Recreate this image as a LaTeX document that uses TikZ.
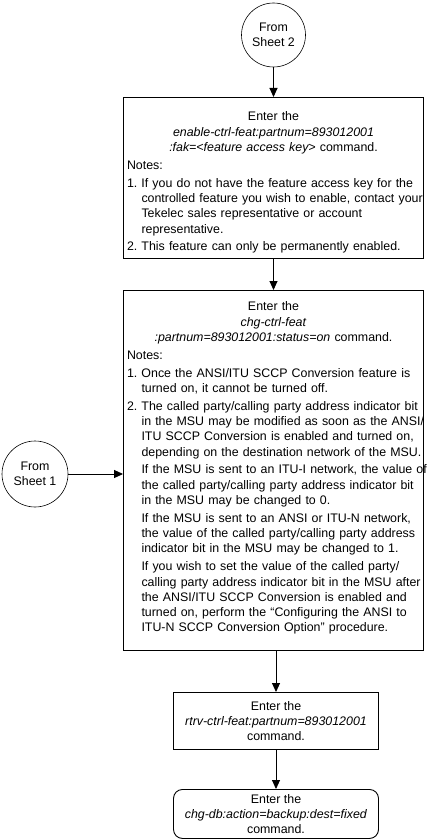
\documentclass[tikz,border=0pt]{standalone}
\usepackage{fontspec}
\setmainfont{Liberation Sans}
\usetikzlibrary{arrows.meta}
\newcommand\bfs{\fontsize{12.4}{15.3}\selectfont\frenchspacing}
\tikzset{
  box/.style={draw, line width=0.9pt, rectangle, anchor=north, inner xsep=3.5pt, inner ysep=0pt,
    align=left, font=\bfs},
  circ/.style={draw, line width=0.6pt, circle, align=center, font=\bfs, inner sep=0pt},
  arr/.style={line width=0.9pt, -{Triangle[length=9pt,width=8pt]}}
}
\newcommand\ind{\hspace*{14.5pt}}
\newcommand\lin[1]{\mbox{#1}}
\newcommand\ctr[1]{\makebox[\linewidth]{#1}}
\begin{document}
\begin{tikzpicture}[x=1pt,y=-1pt]
\useasboundingbox (0,0) rectangle (429,840);
\node[circ, minimum size=64pt] (s2) at (273.5,35) {From\\Sheet 2};
\node[box, text width=293pt, text height=23.5pt, text depth=137.5pt] (b1) at (273.5,97) {%
\ctr{Enter the}\\
\ctr{\textit{enable-ctrl-feat:partnum=893012001}}\\
\ctr{\textit{:fak=<feature access key>} command.}\\[2.5pt]
Notes:\\[2.5pt]
\lin{1. If you do not have the feature access key for the}\\
\ind\lin{controlled feature you wish to enable, contact your}\\
\ind\lin{Tekelec sales representative or account}\\
\ind\lin{representative.}\\[2.5pt]
\lin{2. This feature can only be permanently enabled.}};
\node[box, text width=293pt, text height=20.5pt, text depth=339.5pt] (b2) at (273.5,290) {%
\ctr{Enter the}\\
\ctr{\textit{chg-ctrl-feat}}\\
\ctr{\textit{:partnum=893012001:status=on} command.}\\[2.5pt]
Notes:\\[2.5pt]
\lin{1. Once the ANSI/ITU SCCP Conversion feature is}\\
\ind\lin{turned on, it cannot be turned off.}\\[2.5pt]
\lin{2. The called party/calling party address indicator bit}\\
\ind\lin{in the MSU may be modified as soon as the ANSI/}\\
\ind\lin{ITU SCCP Conversion is enabled and turned on,}\\
\ind\lin{depending on the destination network of the MSU.}\\[2.5pt]
\ind\lin{If the MSU is sent to an ITU-I network, the value of}\\
\ind\lin{the called party/calling party address indicator bit}\\
\ind\lin{in the MSU may be changed to 0.}\\[2.5pt]
\ind\lin{If the MSU is sent to an ANSI or ITU-N network,}\\
\ind\lin{the value of the called party/calling party address}\\
\ind\lin{indicator bit in the MSU may be changed to 1.}\\[2.5pt]
\ind\lin{If you wish to set the value of the called party/}\\
\ind\lin{calling party address indicator bit in the MSU after}\\
\ind\lin{the ANSI/ITU SCCP Conversion is enabled and}\\
\ind\lin{turned on, perform the “Configuring the ANSI to}\\
\ind\lin{ITU-N SCCP Conversion Option” procedure.}};
\node[circ, minimum size=66pt] (s1) at (35,474) {From\\Sheet 1};
\node[box, align=center, minimum width=205pt, minimum height=57pt] (b3) at (276,692)
  {Enter the\\\textit{rtrv-ctrl-feat:partnum=893012001}\\command.};
\node[box, align=center, rounded corners=9pt, minimum width=205pt, minimum height=49pt] (b4) at (276,789)
  {Enter the\\\textit{chg-db:action=backup:dest=fixed}\\command.};
\draw[arr] (s2) -- (b1);
\draw[arr] (b1) -- (b2);
\draw[arr] (s1.east) -- (s1.east -| b2.west);
\draw[arr] (b2.south -| b3.north) -- (b3);
\draw[arr] (b3) -- (b4);
\end{tikzpicture}
\end{document}
